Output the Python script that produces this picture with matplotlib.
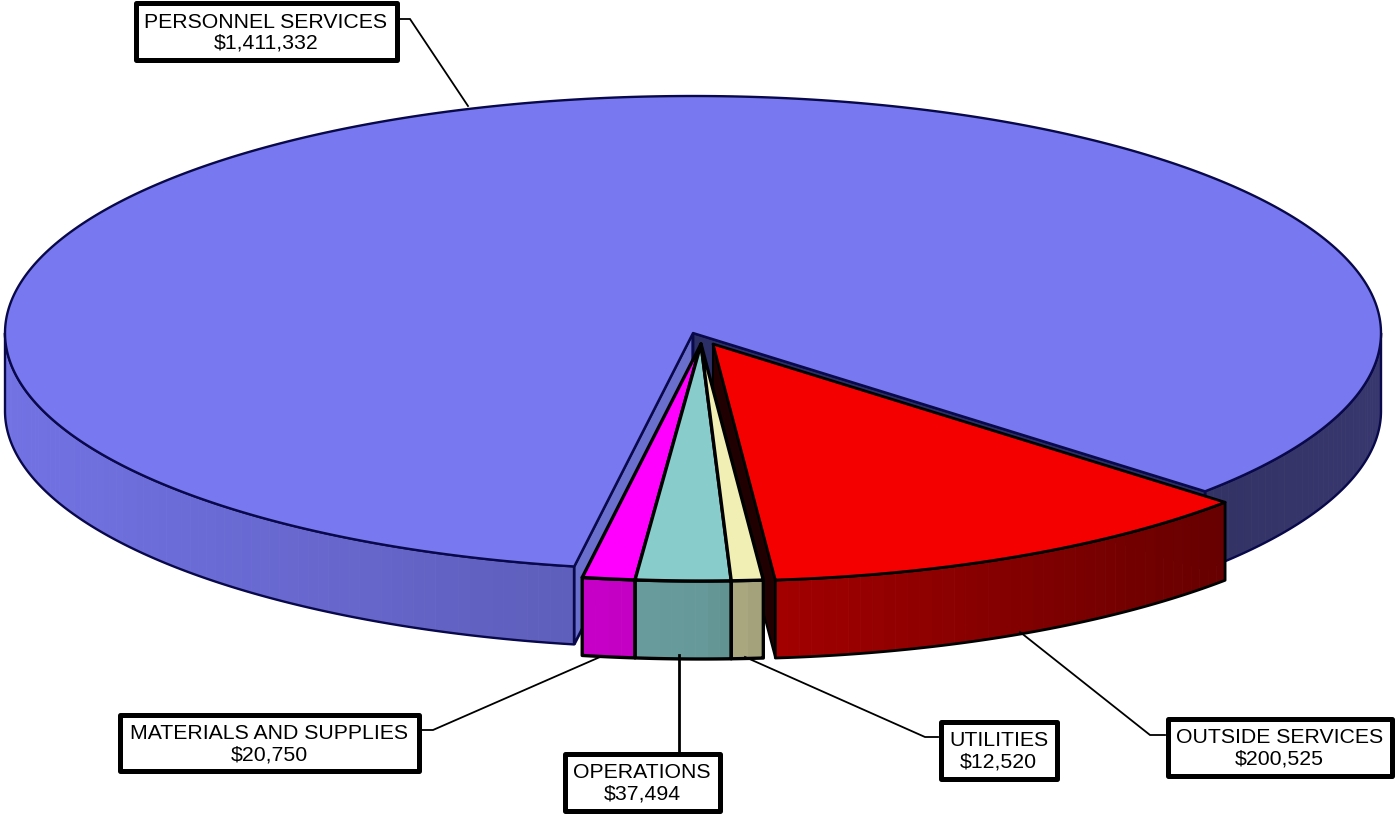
import numpy as np
import matplotlib
matplotlib.use('Agg')
import matplotlib.pyplot as plt
from matplotlib.patches import Polygon, Rectangle

plt.rcParams['font.family'] = ['Liberation Sans', 'DejaVu Sans']

names = ['OUTSIDE SERVICES', 'UTILITIES', 'OPERATIONS', 'MATERIALS AND SUPPLIES', 'PERSONNEL SERVICES']
values = [200525, 12520, 37494, 20750, 1411332]
top_colors = ['#f50000', '#f1efb4', '#88cccc', '#ff00ff', '#7878f0']
edge_colors = ['#000000', '#000000', '#000000', '#000000', '#08084a']

# pie geometry in pixels of the output picture
CX, CY = 693, 333
RX, RY = 688, 237
DEPTH = 78
START = 41.9
offsets = [(20, 11), (8, 11), (8, 11), (8, 11), (0, 0)]
line_widths = [2.0, 2.4, 2.4, 2.4, 1.7]

# label boxes: left, top, right, bottom
boxes = [(1165, 716, 1394, 778), (938, 719, 1059, 781), (562, 751, 722, 813),
         (117, 712, 421, 773), (133, 0, 399, 62)]
leaders = [
    [(1165, 735), (1150, 735), (1020, 632)],
    [(938, 737), (925, 737), (745, 657)],
    [(679, 751), (679, 655)],
    [(421, 730), (433, 730), (600, 657)],
    [(399, 19), (410, 19), (468, 106)],
]
leader_widths = [1.3, 1.3, 2.0, 1.3, 1.3]
line_gaps = [1.17, 1.17, 1.17, 1.17, 1.07]


def arc(a0, a1, ox=0, oy=0, n=200):
    t = np.radians(np.linspace(a0, a1, n))
    return np.column_stack([CX + ox + RX * np.cos(t), CY + oy + RY * np.sin(t)])


def shade(color, x):
    # side walls get darker towards the right of the pie
    f = np.interp(x, [-1, -0.17, 0, 0.1, 0.74, 1], [0.95, 0.78, 0.75, 0.66, 0.42, 0.46])
    return tuple(c * f for c in matplotlib.colors.to_rgb(color))


def draw_side(ax, a0, a1, ox, oy, color, edge, lw, z):
    steps = max(int(abs(a1 - a0)), 2)
    grid = np.linspace(a0, a1, steps + 1)
    for s0, s1 in zip(grid[:-1], grid[1:]):
        top = arc(s0, s1, ox, oy, 6)
        poly = np.vstack([top, top[::-1] + [0, DEPTH]])
        c = shade(color, np.cos(np.radians((s0 + s1) / 2)))
        ax.add_patch(Polygon(poly, facecolor=c, edgecolor=c, lw=0.6, zorder=z))
    top = arc(a0, a1, ox, oy)
    ax.add_patch(Polygon(np.vstack([top, top[::-1] + [0, DEPTH]]), fill=False,
                         edgecolor=edge, lw=lw, zorder=z + 0.1, joinstyle='round'))


def draw_wall(ax, angle, ox, oy, color, edge, lw, z):
    rim = arc(angle, angle, ox, oy, 1)[0]
    apex = np.array([CX + ox, CY + oy])
    poly = [apex, rim, rim + [0, DEPTH], apex + [0, DEPTH]]
    ax.add_patch(Polygon(poly, facecolor=color, edgecolor=edge, lw=lw, zorder=z))


def draw_top(ax, a0, a1, ox, oy, color, edge, lw, z):
    poly = np.vstack([[CX + ox, CY + oy], arc(a0, a1, ox, oy, 400)])
    ax.add_patch(Polygon(poly, facecolor=color, edgecolor=edge, lw=lw, zorder=z, joinstyle='round'))


fig = plt.figure(figsize=(13.95, 8.14), dpi=100)
ax = fig.add_axes([0, 0, 1, 1])
ax.set_xlim(0, 1395)
ax.set_ylim(814, 0)
ax.axis('off')

sweeps = np.array(values) / sum(values) * 360
ends = START + np.cumsum(sweeps)
starts = ends - sweeps

# big slice first, the pulled out ones sit on top of it
a0, a1 = starts[4], ends[4]
draw_side(ax, a0, 180, 0, 0, top_colors[4], edge_colors[4], line_widths[4], 1)
draw_side(ax, 360, a1, 0, 0, top_colors[4], edge_colors[4], line_widths[4], 1)
draw_wall(ax, a0, 0, 0, '#6a6ecc', edge_colors[4], 2.0, 2)
draw_wall(ax, a1, 0, 0, '#2c2e66', edge_colors[4], 2.0, 2)
draw_top(ax, a0, a1, 0, 0, top_colors[4], edge_colors[4], line_widths[4], 3)

ox, oy = offsets[0]
draw_wall(ax, starts[1], ox, oy, '#200000', '#000000', 1.5, 4)
for i in [0, 3, 2, 1]:
    ox, oy = offsets[i]
    draw_side(ax, starts[i], ends[i], ox, oy, top_colors[i], edge_colors[i], line_widths[i], 5)
for i in [0, 3, 2, 1]:
    ox, oy = offsets[i]
    draw_top(ax, starts[i], ends[i], ox, oy, top_colors[i], edge_colors[i], line_widths[i], 6)

# labels
for name, val, box, pts, lw, gap in zip(names, values, boxes, leaders, leader_widths, line_gaps):
    xs, ys = zip(*pts)
    ax.plot(xs, ys, color='black', lw=lw, zorder=7, solid_joinstyle='miter')
    left, top, right, bottom = box
    ax.add_patch(Rectangle((left + 2.5, top + 2.5), right - left - 5, bottom - top - 5, facecolor='white',
                           edgecolor='black', lw=3.6, zorder=8, joinstyle='round'))
    ax.text((left + right) / 2, (top + bottom) / 2 + 1.5, f"{name}\n${val:,}", ha='center', va='center',
            fontsize=15.3, color='black', linespacing=gap, zorder=9)

fig.savefig('out.png', dpi=100)
